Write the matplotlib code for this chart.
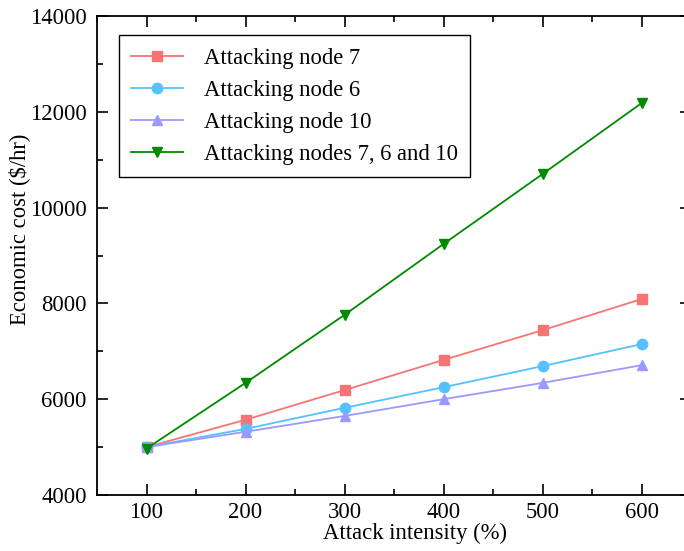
import numpy as np
import matplotlib.pyplot as plt
from matplotlib.ticker import MultipleLocator

plt.rcParams['font.family'] = 'Liberation Serif'
plt.rcParams['mathtext.fontset'] = 'stix'

# Data
intensity = [100, 200, 300, 400, 500, 600]
node7 = [5000, 5570, 6190, 6820, 7440, 8090]
node6 = [5000, 5380, 5820, 6250, 6690, 7150]
node10 = [5000, 5320, 5650, 6000, 6340, 6710]
nodes_all = [4970, 6340, 7760, 9240, 10700, 12180]

labels = ['Attacking node 7', 'Attacking node 6', 'Attacking node 10',
          'Attacking nodes 7, 6 and 10']
colors = ['#f87474', '#55c2ff', '#9999ff', '#008a00']
markers = ['s', 'o', '^', 'v']
series = [node7, node6, node10, nodes_all]

fs = 16.3

fig = plt.figure(figsize=(6.84, 5.51), dpi=100)
ax = fig.add_axes([97/684, 1 - 495/551, 594/684, 479/551])

for vals, lab, c, m in zip(series, labels, colors, markers):
    ax.plot(intensity, vals, color=c, marker=m, markersize=7.5,
            linewidth=1.3, label=lab)

ax.set_xlim(50, 650)
ax.set_ylim(4000, 14000)
ax.xaxis.set_major_locator(MultipleLocator(100))
ax.xaxis.set_minor_locator(MultipleLocator(50))
ax.yaxis.set_major_locator(MultipleLocator(2000))
ax.yaxis.set_minor_locator(MultipleLocator(1000))
ax.tick_params(which='both', direction='in', top=True, right=True,
               labelsize=fs, width=1.2)
ax.tick_params(which='major', length=8)
ax.tick_params(axis='x', which='major', pad=5)
ax.tick_params(axis='y', which='major', pad=7.5)
ax.tick_params(which='minor', length=4)
for s in ax.spines.values():
    s.set_linewidth(1.3)

ax.set_xlabel('Attack intensity (%)', fontsize=fs)
ax.set_ylabel('Economic cost ($/hr)', fontsize=fs)
ax.xaxis.set_label_coords(0.535, -0.058)
ax.yaxis.set_label_coords(-0.112, 0.555)

leg = ax.legend(loc='upper left', bbox_to_anchor=(0.037, 0.960), fontsize=fs,
                fancybox=False, edgecolor='black', framealpha=1,
                handlelength=2.3, handletextpad=0.9, borderpad=0.55,
                borderaxespad=0, labelspacing=0.49)
leg.get_frame().set_linewidth(1.0)

fig.savefig('out.png', dpi=100)
